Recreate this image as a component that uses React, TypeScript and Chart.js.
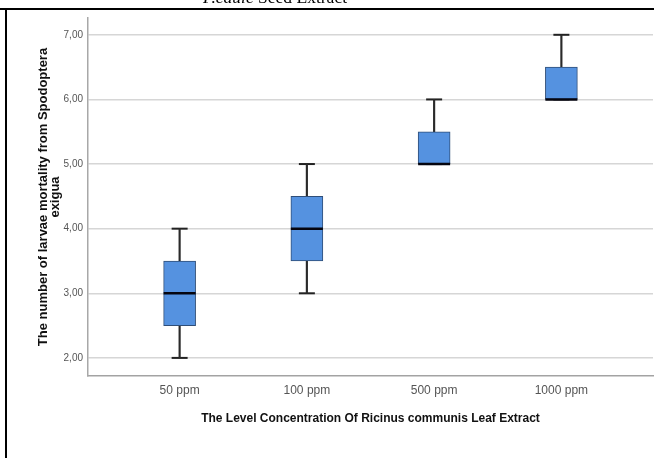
import React, { useEffect, useRef } from "react";
import { Chart, registerables } from "chart.js";

Chart.register(...registerables);

const categories = ["50 ppm", "100 ppm", "500 ppm", "1000 ppm"];
const whiskerLow = [2, 3, 5, 6];
const q1 = [2.5, 3.5, 5, 6];
const medians = [3, 4, 5, 6];
const q3 = [3.5, 4.5, 5.5, 6.5];
const whiskerHigh = [4, 5, 6, 7];
const yTicks = [2, 3, 4, 5, 6, 7];
const yTitle = ["The number of larvae mortality from Spodoptera", "exigua"];
const xTitle = "The Level Concentration Of Ricinus communis Leaf Extract";

export default function App() {
  const ref = useRef<HTMLCanvasElement | null>(null);

  useEffect(() => {
    if (!ref.current) return;
    const idx = categories.map((_, i) => i);
    const chart = new Chart(ref.current, {
      type: "bar",
      data: {
        datasets: [
          {
            type: "line",
            label: "median",
            data: idx.map((i) => ({ x: i, y: medians[i] })),
            showLine: false,
            pointStyle: "line",
            pointRadius: 16,
            pointHoverRadius: 16,
            pointBorderWidth: 2.5,
            pointBorderColor: "#05050f",
            borderColor: "#05050f",
            order: 0,
          } as any,
          {
            type: "bar",
            label: "box",
            data: idx.map((i) => ({ x: i, y: [q1[i], q3[i]] })),
            barThickness: 32,
            backgroundColor: "#5592e0",
            borderColor: "#2f4e78",
            borderWidth: 1,
            borderSkipped: false,
            grouped: false,
            order: 1,
          } as any,
          {
            type: "bar",
            label: "whisker",
            data: idx.map((i) => ({ x: i, y: [whiskerLow[i], whiskerHigh[i]] })),
            barThickness: 1.5,
            backgroundColor: "#2a2a2a",
            borderWidth: 0,
            grouped: false,
            order: 2,
          } as any,
          {
            type: "line",
            label: "caps",
            data: [
              ...idx.map((i) => ({ x: i, y: whiskerLow[i] })),
              ...idx.map((i) => ({ x: i, y: whiskerHigh[i] })),
            ],
            showLine: false,
            pointStyle: "line",
            pointRadius: 8,
            pointHoverRadius: 8,
            pointBorderWidth: 2,
            pointBorderColor: "#222222",
            borderColor: "#222222",
            order: 2,
          } as any,
        ],
      },
      options: {
        animation: false,
        responsive: false,
        events: [],
        layout: { autoPadding: false, padding: { top: 18, right: 1, left: 0, bottom: 0 } },
        plugins: { legend: { display: false }, tooltip: { enabled: false } },
        scales: {
          x: {
            type: "linear",
            offset: false,
            min: -0.72,
            max: 3.72,
            afterBuildTicks: (s: any) => {
              s.ticks = idx.map((v) => ({ value: v }));
            },
            afterFit: (s: any) => {
              s.height = 82;
              s.paddingLeft = 0;
              s.paddingRight = 0;
            },
            ticks: {
              callback: (v: any) => categories[v as number] ?? "",
              font: { family: "'Liberation Sans', Arial, sans-serif", size: 12 },
              color: "#555555",
              padding: 7,
              maxRotation: 0,
              autoSkip: false,
            },
            grid: { display: false, drawTicks: false, offset: false },
            border: { display: true, color: "#a3a3a3", width: 1.5 },
            title: {
              display: true,
              text: xTitle,
              font: { family: "'Liberation Sans', Arial, sans-serif", size: 12, weight: "bold" },
              color: "#111111",
              padding: { top: 0, bottom: 32 },
            },
          },
          y: {
            type: "linear",
            min: 1.72,
            max: 7.26,
            afterBuildTicks: (s: any) => {
              s.ticks = yTicks.map((v) => ({ value: v }));
            },
            afterFit: (s: any) => {
              s.width = 88;
              s.paddingTop = 0;
              s.paddingBottom = 0;
            },
            ticks: {
              callback: (v: any) => Number(v).toFixed(2).replace(".", ","),
              font: { family: "'Liberation Sans', Arial, sans-serif", size: 10 },
              color: "#555555",
              padding: 5,
            },
            grid: { color: "#d6d6d6", lineWidth: 1.5, drawTicks: false },
            border: { display: true, color: "#a8a8a8", width: 1.5 },
            title: {
              display: true,
              text: yTitle,
              font: { family: "'Liberation Sans', Arial, sans-serif", size: 13, weight: "bold", lineHeight: 0.97 },
              color: "#111111",
              padding: { top: 37, bottom: 0 },
            },
          },
        },
      } as any,
    });
    return () => chart.destroy();
  }, []);

  return (
    <div
      style={{
        position: "fixed",
        left: 0,
        top: 0,
        width: 654,
        height: 458,
        background: "#ffffff",
        overflow: "hidden",
      }}
    >
      <canvas ref={ref} width={654} height={458} style={{ position: "absolute", left: 0, top: 0, width: 654, height: 458 }} />
      <div
        style={{
          position: "absolute",
          left: 203,
          top: -11,
          fontFamily: "'Liberation Serif', 'Times New Roman', serif",
          fontSize: 17.5,
          lineHeight: "17.5px",
          whiteSpace: "nowrap",
          color: "#000",
        }}
      >
        <i>P.edule</i> Seed Extract
      </div>
      <div style={{ position: "absolute", left: 0, top: 8, width: 654, height: 2, background: "#000" }} />
      <div style={{ position: "absolute", left: 5, top: 8, width: 2, height: 450, background: "#000" }} />
    </div>
  );
}
